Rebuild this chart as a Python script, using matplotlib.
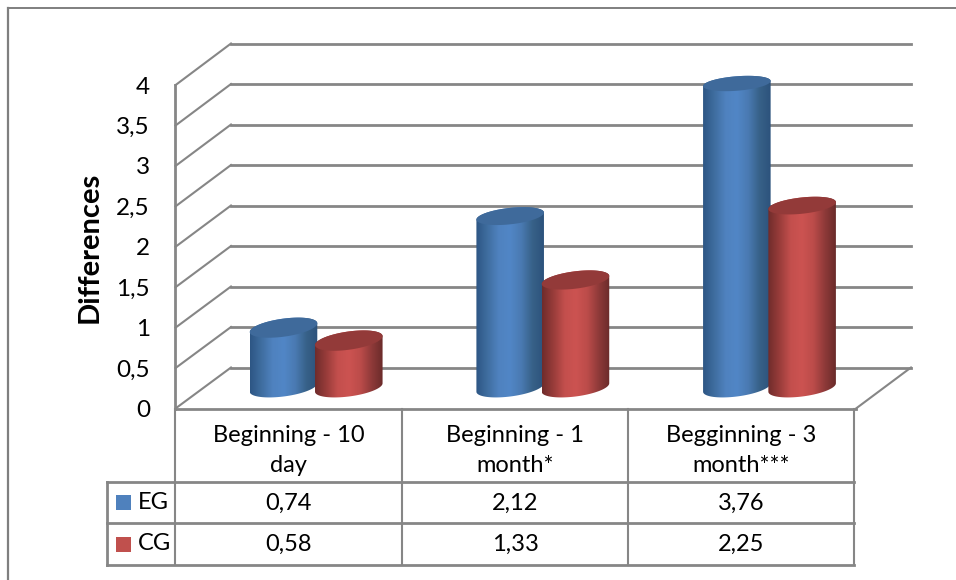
import numpy as np
import matplotlib
matplotlib.use('Agg')
import matplotlib.pyplot as plt
from matplotlib.colors import LinearSegmentedColormap
from matplotlib.patches import Polygon, Rectangle

plt.rcParams['font.family'] = ['Lato', 'DejaVu Sans']

# data
categories = ['Beginning - 10\nday', 'Beginning - 1\nmonth*', 'Begginning - 3\nmonth***']
series_names = ['EG', 'CG']
eg_values = [0.74, 2.12, 3.76]
cg_values = [0.58, 1.33, 2.25]
eg_labels = ['0,74', '2,12', '3,76']
cg_labels = ['0,58', '1,33', '2,25']
y_ticks = [0, 0.5, 1, 1.5, 2, 2.5, 3, 3.5, 4]
y_tick_labels = ['0', '0,5', '1', '1,5', '2', '2,5', '3', '3,5', '4']

W, H = 956, 580
GRID = '#868686'

fig = plt.figure(figsize=(W / 100, H / 100), dpi=100)

# pixel layer for the frame, walls and data table
px = fig.add_axes([0, 0, 1, 1])
px.set_xlim(0, W)
px.set_ylim(H, 0)
px.axis('off')


def seg(xs, ys, lw=1.6, color=GRID, z=1):
    px.plot(xs, ys, color=color, lw=lw, solid_capstyle='projecting', zorder=z)


# outer frame, only top and left show
seg([8.5, W], [7.5, 7.5], lw=1.4, color='#7f7f7f')
seg([8.5, 8.5], [7.5, H], lw=1.6, color='#7f7f7f')

# walls: front-left corner (175.5, 408.5) to 85, back wall 367.5 to 43.5
for v in y_ticks:
    yf = 408.5 - v * 80.85
    yb = 367.5 - v * 81
    seg([175.5, 231], [yf, yb], lw=1.5)
    seg([231, 911], [yb, yb], lw=2)
seg([175.5, 175.5], [85, 408.5], lw=2)
seg([175.5, 856], [408.5, 408.5], lw=2)
seg([856, 911], [408.5, 367.5], lw=1.5)

# y tick labels and axis title
for v, lab in zip(y_ticks, y_tick_labels):
    px.text(150, 410.5 - v * 80.85, lab, ha='right', va='center', fontsize=17.5, color='black')
px.text(90, 247, 'Differences', rotation=90, ha='center', va='center',
        fontsize=21, fontweight='bold', color='black')

# data table
col_x = [175.5, 402, 628.5, 854.5]
row_y = [482, 523, 565]
for x in col_x:
    seg([x, x], [408.5, row_y[-1]], lw=1.5)
seg([107, 107], [row_y[0], row_y[-1]], lw=2)
for y in row_y:
    seg([107, 854.5], [y, y], lw=2)
for i, cat in enumerate(categories):
    cx = (col_x[i] + col_x[i + 1]) / 2
    px.text(cx, 450.5, cat, ha='center', va='center', fontsize=17, color='black', linespacing=1.48)
    px.text(cx, 503.5, eg_labels[i], ha='center', va='center', fontsize=17, color='black')
    px.text(cx, 544.5, cg_labels[i], ha='center', va='center', fontsize=17, color='black')
for name, color, y in zip(series_names, ['#4f81bd', '#c0504d'], [502.5, 544]):
    px.add_patch(Rectangle((116, y - 7.5), 15, 15, fc=color, ec='none'))
    px.text(138, y, name, ha='left', va='center', fontsize=17, color='black')

# bar plane sits halfway between the front and back walls; the axes run
# below zero so the rounded cylinder bases are not cut off
PX_PER_UNIT = 80.85
y_floor = -0.5
ax = fig.add_axes([203.5 / W, 1 - (387.5 - y_floor * PX_PER_UNIT) / H,
                   680 / W, (4 - y_floor) * PX_PER_UNIT / H])
ax.axis('off')
ax.patch.set_alpha(0)

EG_OFF, CG_OFF = -0.147, 0.141
RX = 0.149

blue_cm = LinearSegmentedColormap.from_list('b', ['#2d5684', '#3f6d9f', '#4f82bf', '#5186c6',
                                                 '#4a7ab2', '#376188', '#2c527c'])
red_cm = LinearSegmentedColormap.from_list('r', ['#6f2c2b', '#983c3a', '#c34f4d', '#cc5351',
                                                '#bc4c4a', '#8f3a39', '#6a2b2a'])


def ellipse_xy(cx, cy, t, ry, tilt):
    return cx + RX * np.cos(t), cy + tilt * np.cos(t) + ry * np.sin(t)


def cylinder(cx, value, cmap, top_color, z):
    # the caps flatten a little the higher they sit
    top_ry = (9.5 - 0.6 * value) / PX_PER_UNIT
    top_tilt = (4.8 - 0.6 * value) / PX_PER_UNIT
    base_ry, base_tilt = 9.0 / PX_PER_UNIT, 4.2 / PX_PER_UNIT

    # body outline: base arc, then back along the far half of the cap
    t = np.linspace(np.pi, 2 * np.pi, 60)
    bx, by = ellipse_xy(cx, 0, t, base_ry, base_tilt)
    tt = np.linspace(0, np.pi, 60)
    ux, uy = ellipse_xy(cx, value, tt, top_ry, top_tilt)
    verts = np.column_stack([np.r_[bx, ux], np.r_[by, uy]])
    body = Polygon(verts, closed=True, fc='none', ec='none')
    ax.add_patch(body)
    grad = np.linspace(0, 1, 256).reshape(1, -1)
    im = ax.imshow(grad, cmap=cmap, extent=[cx - RX, cx + RX, y_floor, value + 0.3],
                   aspect='auto', zorder=z, interpolation='bilinear')
    im.set_clip_path(body)
    t = np.linspace(0, 2 * np.pi, 120)
    ex, ey = ellipse_xy(cx, value, t, top_ry, top_tilt)
    ax.fill(ex, ey, color=top_color, lw=0, zorder=z + 0.1)


for i in range(len(categories)):
    # the second series of a pair overlaps the first one
    cylinder(i + 0.5 + EG_OFF, eg_values[i], blue_cm, '#3f6a9b', 3)
    cylinder(i + 0.5 + CG_OFF, cg_values[i], red_cm, '#933a39', 4)
ax.set_xlim(0, 3)
ax.set_ylim(y_floor, 4)

fig.savefig('out.png', dpi=100)
